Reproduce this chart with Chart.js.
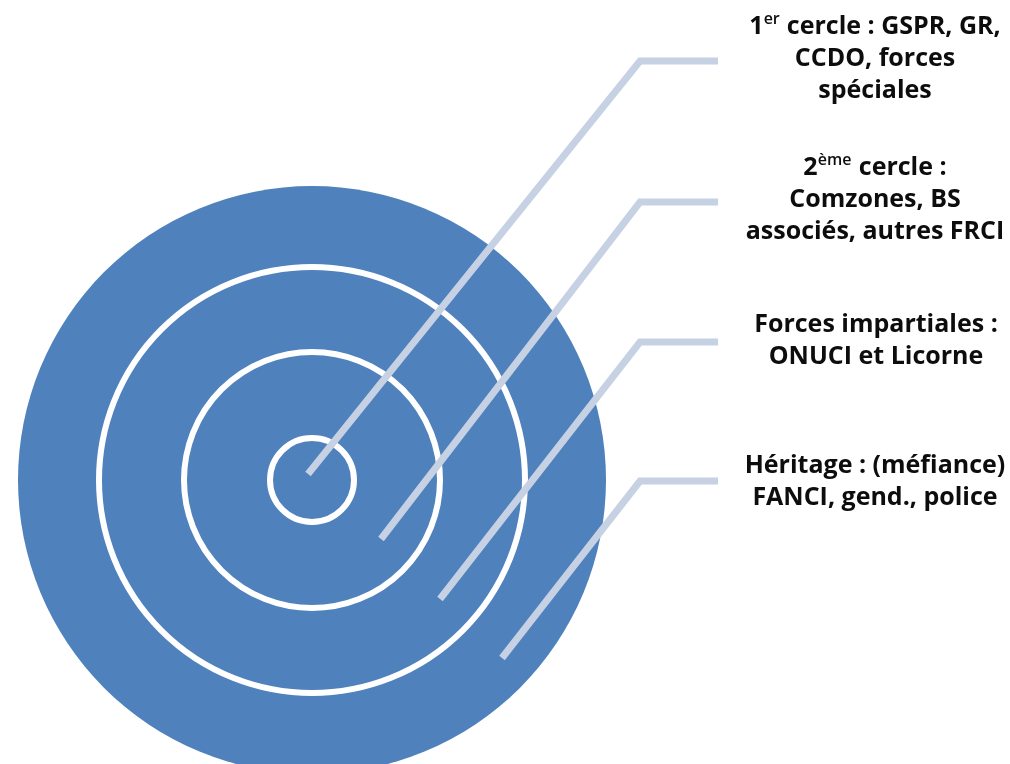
<!DOCTYPE html>
<html>
<head>
<meta charset="utf-8">
<script src="https://cdn.jsdelivr.net/npm/chart.js@4.4.1/dist/chart.umd.min.js"></script>
<style>
  html, body { margin: 0; padding: 0; background: #ffffff; }
  #wrap { width: 1010px; height: 764px; position: relative; }
</style>
</head>
<body>
<div id="wrap"><canvas id="c" width="1010" height="764"></canvas></div>
<script>
// ---- Data ----
const categories = ['1er cercle', '2ème cercle', 'Forces impartiales', 'Héritage'];
const labelLines = [
  ['1^{er} cercle : GSPR, GR,', 'CCDO, forces', 'spéciales'],
  ['2^{ème} cercle :', 'Comzones, BS', 'associés, autres FRCI'],
  ['Forces impartiales :', 'ONUCI et Licorne'],
  ['Héritage : (méfiance)', 'FANCI, gend., police']
];
const targetCenterX = 312;
const targetCenterY = 480;
const outerRadius = 294;
const ringRadii = [42, 128, 213];
const leaderStartX = [308, 381, 440, 502];
const leaderStartY = [474, 539, 599, 658];
const leaderElbowX = [640, 640, 640, 640];
const leaderElbowY = [61, 202, 342, 481];
const leaderEndX = [718, 718, 718, 718];
const labelCenterX = [875, 875, 876, 875];
const labelFirstBaseline = [34, 175, 332, 473];

// ---- Build datasets ----
const datasets = [];

categories.forEach((name, i) => {
  datasets.push({
    type: 'line',
    label: name,
    data: [
      { x: leaderStartX[i], y: leaderStartY[i] },
      { x: leaderElbowX[i], y: leaderElbowY[i] },
      { x: leaderEndX[i], y: leaderElbowY[i] }
    ],
    borderColor: '#C6D1E4',
    borderWidth: 7,
    borderCapStyle: 'butt',
    borderJoinStyle: 'miter',
    pointRadius: 0,
    fill: false,
    tension: 0,
    order: 0,
    clip: false
  });
});

datasets.push({
  type: 'bubble',
  label: 'rings',
  data: ringRadii.map(r => ({ x: targetCenterX, y: targetCenterY, r: r })),
  backgroundColor: 'rgba(0,0,0,0)',
  borderColor: '#FFFFFF',
  borderWidth: 6,
  hoverBorderWidth: 6,
  order: 1,
  clip: false
});

datasets.push({
  type: 'bubble',
  label: 'target',
  data: [{ x: targetCenterX, y: targetCenterY, r: outerRadius }],
  backgroundColor: '#4F81BD',
  borderColor: '#4F81BD',
  borderWidth: 0,
  order: 2,
  clip: false
});

// ---- Label plugin (real text drawn through the scales) ----
const FONT = '"Open Sans", Lato, sans-serif';
const MAIN_SIZE = 25;
const SUP_SIZE = 16;
const SUP_RISE = 10;
const LINE_GAP = 32;

function parseSegments(str) {
  const segs = [];
  const re = /\^\{([^}]*)\}/g;
  let last = 0, m;
  while ((m = re.exec(str)) !== null) {
    if (m.index > last) segs.push({ t: str.slice(last, m.index), sup: false });
    segs.push({ t: m[1], sup: true });
    last = re.lastIndex;
  }
  if (last < str.length) segs.push({ t: str.slice(last), sup: false });
  return segs;
}

const labelPlugin = {
  id: 'labels',
  afterDatasetsDraw(chart) {
    const ctx = chart.ctx;
    const xs = chart.scales.x, ys = chart.scales.y;
    ctx.save();
    ctx.fillStyle = '#0d0d0d';
    ctx.textBaseline = 'alphabetic';
    ctx.textAlign = 'left';
    labelLines.forEach((lines, i) => {
      const cx = xs.getPixelForValue(labelCenterX[i]);
      lines.forEach((line, j) => {
        const by = ys.getPixelForValue(labelFirstBaseline[i] + j * LINE_GAP);
        const segs = parseSegments(line);
        let total = 0;
        segs.forEach(s => {
          ctx.font = 'bold ' + (s.sup ? SUP_SIZE : MAIN_SIZE) + 'px ' + FONT;
          s.w = ctx.measureText(s.t).width;
          total += s.w;
        });
        let x = cx - total / 2;
        segs.forEach(s => {
          ctx.font = (s.sup ? '600 ' : 'bold ') + (s.sup ? SUP_SIZE : MAIN_SIZE) + 'px ' + FONT;
          ctx.fillText(s.t, x, s.sup ? by - SUP_RISE : by);
          x += s.w;
        });
      });
    });
    ctx.restore();
  }
};

new Chart(document.getElementById('c'), {
  type: 'scatter',
  data: { datasets },
  options: {
    responsive: false,
    maintainAspectRatio: false,
    animation: false,
    events: [],
    layout: { padding: 0, autoPadding: false },
    plugins: { legend: { display: false }, tooltip: { enabled: false } },
    scales: {
      x: { type: 'linear', min: 0, max: 1010, display: false },
      y: { type: 'linear', min: 0, max: 764, reverse: true, display: false }
    }
  },
  plugins: [labelPlugin]
});
</script>
</body>
</html>
